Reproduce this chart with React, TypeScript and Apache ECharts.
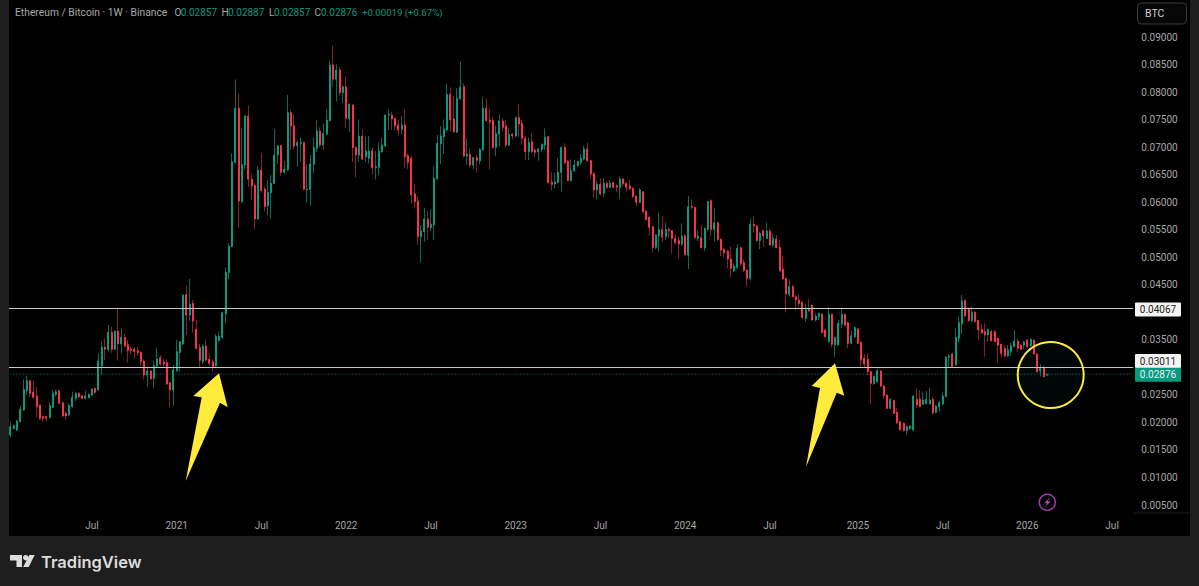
import React, { useEffect, useRef } from "react";
import * as echarts from "echarts";

// Every row: [open, close, low, high] in units of 0.00001 BTC
const candles2020 = [
[1772,1923,1729,2002],[1893,1941,1875,1965],[1862,2026,1844,2044],[2014,2244,2002,2304],[2226,2601,2214,2783],
[2577,2758,2498,2849],[2758,2528,2456,2771],[2547,2456,2438,2758],[2480,2286,2093,2649],[2316,2074,2044,2329],
[2105,2074,2014,2123],[2105,2074,2020,2123],[2086,2304,2074,2365],[2274,2528,2256,2589],[2510,2559,2468,2589],
[2577,2347,2335,2589],[2359,2117,2093,2377],[2165,2117,2044,2195],[2135,2304,2123,2347],[2286,2456,2268,2559],
[2438,2528,2395,2547],[2528,2468,2438,2547],[2486,2438,2425,2498],[2438,2480,2419,2577],[2450,2510,2438,2528],
[2498,2607,2486,2619],[2619,2547,2516,2631],[2589,3116,2571,3255],[3025,3364,2861,3467],[3364,3328,3134,3527],
[3328,3636,3285,3769],[3636,3328,3267,3739],[3328,3660,3316,3666],[3660,3424,3122,4054],[3424,3545,3255,3709],
[3545,3388,3364,3606],[3412,3303,3091,3497],[3328,3303,3225,3388],[3328,3285,3152,3364],[3303,3267,3213,3364],
[3279,3103,3025,3285],[3116,2861,2783,3146],[2861,2934,2649,3013],[2934,2789,2783,2952],[2801,3031,2631,3122],
[3025,3152,3001,3364],[3176,3061,3025,3225],[3097,3061,3013,3164],[3085,2698,2680,3146],[2722,2589,2274,2740],
[2589,2952,2304,3043],
];
const candles2021 = [
[2940,3285,2922,3497],[3267,3467,2922,3479],[3424,4314,3406,4326],[4314,3951,3588,4478],[3951,4151,3848,4605],
[4163,3842,3630,4224],[3691,3346,3328,3860],[3364,3122,2995,3424],[3103,3388,3061,3418],[3388,3134,3103,3509],
[3146,3073,3025,3255],[3103,3013,2934,3146],[3025,3558,3013,3606],[3485,3570,3467,3648],[3545,3993,3509,4012],
[3969,4726,3800,4817],[4719,5204,4598,5252],[5192,6735,5179,6887],[6723,7704,6705,8231],[7704,6021,5537,7964],
[6009,6687,5979,7359],[6675,7565,6596,7583],[7565,6420,6281,7752],[6414,6293,6039,6505],[6305,5694,5512,6342],
[5694,6584,5676,6657],[6584,6209,6172,6899],[6239,5918,5839,6281],[5936,6178,5767,6402],[6172,6342,5706,6493],
[6342,6856,6330,7323],[6856,7026,6693,7038],[7026,6542,6481,7038],[6542,6596,6523,6747],[6584,7625,6572,7946],
[7625,7383,6947,7674],[7389,7020,6959,7601],[7026,7080,6644,7117],[7068,7086,6735,7177],[7086,6233,6221,7098],
[6221,6239,5991,6687],[6233,6693,5936,6856],[6687,6990,6523,7177],[6977,7292,6917,7492],[7292,7038,6996,7359],
[7038,7250,6947,7432],[7238,7492,7220,7692],[7480,8491,7468,8564],[8491,8237,8097,8836],[8237,8400,7825,8503],
[8400,7988,7928,8461],[7988,8097,7795,8110],
];
const candles2022 = [
[8097,7522,7353,8279],[7510,7777,7280,7795],[7764,6990,6735,7777],[6996,6856,6451,7008],[6856,7201,6735,7504],
[7201,6784,6766,7323],[6826,6929,6735,7189],[6796,6929,6705,7201],[6935,6626,6505,6996],[6626,6644,6414,6929],
[6632,6929,6493,7080],[6917,7038,6899,7171],[7020,7583,7008,7589],[7583,7601,7310,7686],[7583,7510,7310,7643],
[7522,7383,7310,7534],[7401,7310,7207,7504],[7323,7401,7232,7565],[7401,6826,6626,7686],[6844,6723,6602,6887],
[6800,6135,5979,6838],[6149,6009,5888,6327],[6022,5374,5222,6100],[5374,5477,4902,5586],[5465,5695,5283,5900],
[5695,5543,5313,5840],[5543,5598,5477,5870],[5586,6433,5313,6645],[6421,7069,6415,7220],[7057,7202,6694,7384],
[7190,7329,6875,7505],[7311,7959,7299,8159],[7959,7493,7281,8086],[7511,7275,7263,7929],[7269,7886,7263,8068],
[7874,8086,7868,8552],[8098,6839,6815,8159],[6839,6875,6675,7160],[6869,6675,6633,6978],[6675,6809,6603,6827],
[6809,6760,6542,6857],[6748,6960,6687,6978],[6948,7705,6948,7916],[7705,7481,7462,7886],[7493,7462,6597,7692],
[7481,6990,6972,7541],[6996,7250,6839,7390],[7238,7475,7008,7596],[7475,7359,7281,7523],[7384,7039,6990,7493],
[7039,7232,7020,7341],[7238,7202,7142,7250],
];
const candles2023 = [
[7202,7535,7178,7553],[7535,7420,7178,7783],[7432,7160,7039,7493],[7160,6918,6766,7208],[6918,7087,6766,7178],
[7099,6918,6887,7250],[6948,6905,6815,6990],[6911,6966,6754,6978],[6960,7051,6918,7069],[7039,7178,6948,7341],
[7190,6354,6342,7202],[6367,6324,6221,6542],[6330,6367,6252,6536],[6360,6542,6342,6796],[6542,6996,6191,7008],
[6996,6718,6687,7069],[6748,6391,6385,6766],[6391,6572,6385,6778],[6566,6675,6554,6766],[6663,6736,6645,6754],
[6724,6796,6675,6869],[6784,6966,6754,7020],[6966,6754,6736,7081],[6754,6512,6433,6766],[6524,6221,6088,6536],
[6221,6324,6052,6385],[6324,6149,6118,6433],[6161,6342,6100,6433],[6342,6270,6233,6373],[6270,6342,6252,6403],
[6354,6270,6252,6373],[6300,6276,6191,6324],[6270,6421,6058,6463],[6421,6330,6282,6445],[6342,6270,6191,6360],
[6294,6240,6221,6403],[6252,6100,6082,6270],[6112,5997,5931,6124],[5997,6221,5979,6252],[6190,5827,5809,6203],
[5839,5688,5664,5857],[5730,5543,5391,5736],[5555,5179,5089,5567],[5179,5403,5149,5416],[5391,5506,5101,5809],
[5506,5361,5282,5736],[5373,5506,5313,5627],[5506,5482,5343,5543],[5482,5343,5070,5494],[5343,5270,5234,5422],
[5301,5240,4968,5373],[5240,5385,5204,5615],
];
const candles2024 = [
[5391,5040,5040,5422],[5040,5918,4786,6112],[5918,5906,5870,6051],[5906,5355,5343,5918],[5343,5385,5295,5482],
[5355,5173,5161,5585],[5173,5525,5113,5537],[5506,6009,5482,6021],[6027,5506,5391,6051],[5506,5627,5282,5900],
[5627,5325,5301,5646],[5325,5131,5022,5343],[5143,5083,4998,5173],[5113,4968,4798,5131],[4968,4798,4629,5192],
[4749,4840,4737,4889],[4816,5161,4786,5240],[5173,4889,4828,5192],[4901,4756,4737,4962],[4768,4616,4465,4780],
[4616,5597,4574,5706],[5597,5567,5446,5736],[5567,5301,5282,5585],[5301,5434,5149,5464],[5482,5391,5192,5494],
[5343,5476,5331,5627],[5476,5222,5204,5525],[5222,5343,5179,5434],[5331,5173,5161,5403],[5179,4756,4737,5313],
[4786,4604,4598,5040],[4616,4332,3999,4629],[4326,4465,4283,4598],[4465,4283,4271,4495],[4283,4223,4041,4314],
[4223,4162,4084,4326],[4181,3902,3890,4205],[3890,4041,3829,4162],[4053,4023,4011,4235],[4132,3860,3848,4144],
[3860,3932,3829,3981],[3920,3981,3860,3993],[3969,3636,3618,3981],[3678,3557,3539,3690],[3466,3963,3454,4102],
[3963,3418,3357,3981],[3406,3545,3182,3557],[3406,3799,3400,3860],[3787,3963,3708,4072],[3963,3769,3739,3981],
[3811,3436,3345,3829],[3437,3576,3425,3667],
];
const candles2025 = [
[3558,3721,3528,3739],[3697,3437,3425,3709],[3455,3134,3001,3479],[3164,3061,3001,3243],[3146,2922,2862,3255],
[2922,2710,2335,2940],[2710,2831,2680,2849],[2741,2940,2722,2965],[2934,2662,2638,2952],[2662,2486,2438,2674],
[2498,2256,2238,2510],[2256,2420,2238,2438],[2395,2165,2153,2408],[2183,1996,1972,2256],[2014,1863,1851,2032],
[1984,1851,1832,1996],[1851,1923,1772,1941],[1893,1935,1863,1947],[1863,2480,1851,2498],[2420,2317,2256,2619],
[2420,2287,2274,2589],[2329,2408,2317,2559],[2341,2420,2335,2571],[2335,2408,2330,2619],[2420,2178,2135,2468],
[2184,2299,2165,2317],[2287,2359,2196,2395],[2335,2480,2317,2559],[2468,3182,2456,3207],[3182,3207,3001,3243],
[3243,3013,3001,3267],[3043,3546,3037,3709],[3528,3812,3449,3921],[3788,4206,3606,4315],[4212,3933,3921,4224],
[4072,3848,3830,4085],[3848,4000,3818,4103],[4000,3830,3818,4024],[3848,3679,3497,3860],[3691,3630,3606,3788],
[3649,3588,3195,3800],[3588,3691,3467,3709],[3649,3485,3467,3679],[3649,3467,3455,3679],[3528,3406,3086,3540],
[3419,3255,3182,3431],[3346,3207,3195,3406],[3207,3316,3195,3406],[3285,3394,3207,3449],[3376,3479,3364,3679],
[3479,3346,3285,3528],[3406,3328,3316,3419],[3400,3461,3328,3479],
];
const candles2026 = [
[3497,3376,3364,3515],[3394,3509,3376,3527],[3497,3243,3225,3509],[3243,2922,2910,3255],[2940,2977,2831,3055],
[3001,2831,2819,3025],[2857,2876,2857,2887],
];

const firstWeek = "2020-01-13";
const weekCount = 345;
const priceTicks = [0.09,0.085,0.08,0.075,0.07,0.065,0.06,0.055,0.05,0.045,0.035,0.025,0.02,0.015,0.01,0.005];
const levelUpper = 0.04067;
const levelLower = 0.03011;
const lastPrice = 0.02876;
const legendTitle = "Ethereum / Bitcoin · 1W · Binance";
const legendChange = "+0.00019 (+0.67%)";
const legendOHLC = ["0.02857", "0.02887", "0.02857", "0.02876"];

const GREEN = "#089981";
const RED = "#f7324a";
const FONT = "Roboto";

function weekLabels(): string[] {
  const out: string[] = [];
  const start = new Date(firstWeek + "T00:00:00Z").getTime();
  for (let i = 0; i < weekCount; i++) {
    const d = new Date(start + i * 7 * 864e5);
    const first = d.getUTCDate() <= 7;
    if (first && d.getUTCMonth() === 0) out.push(String(d.getUTCFullYear()));
    else if (first && d.getUTCMonth() === 6) out.push("Jul");
    else out.push("");
  }
  return out;
}

export default function App() {
  const ref = useRef<HTMLDivElement>(null);
  useEffect(() => {
    document.body.style.margin = "0";
    document.body.style.background = "#1e1e1e";
    const chart = echarts.init(ref.current!, undefined, { renderer: "svg" });
    const rows = [
      ...candles2020, ...candles2021, ...candles2022, ...candles2023,
      ...candles2024, ...candles2025, ...candles2026,
    ].map((r) => r.map((v) => v / 100000));
    const bodies = rows.map(([o, c]) => [o, c, Math.min(o, c), Math.max(o, c)]);
    const labels = weekLabels();
    const categories = labels.map((l, i) => (l ? l : `w${i}`));

    const txt = (text: string, x: number, y: number, fill: string, size = 10, extra: any = {}) => ({
      type: "text", z: 30, x, y,
      style: { text, fill, font: `${size}px ${FONT}`, textVerticalAlign: "middle", verticalAlign: "middle", ...extra },
    });
    const tag = (value: number, yc: number, bg: string, fg: string) => [
      { type: "rect", z: 29, shape: { x: 1135, y: yc - 7, width: 46, height: 14, r: 1 }, style: { fill: bg } },
      txt(value.toFixed(5), 1158, yc, fg, 10, { textAlign: "center", align: "center" }),
    ];
    const poly = (points: number[][], fill: string, z = 20) => ({ type: "polygon", z, shape: { points }, style: { fill } });

    chart.setOption({
      animation: false,
      backgroundColor: "#1e1e1e",
      grid: { left: 8.87, top: 0, width: 1124.4, height: 513 },
      xAxis: {
        type: "category",
        data: categories,
        boundaryGap: true,
        axisLine: { show: false },
        axisTick: { show: false },
        splitLine: { show: false },
        axisLabel: {
          interval: (i: number) => labels[i] !== "",
          formatter: (_: string, i: number) => labels[i],
          color: "#a8a8a8", fontFamily: FONT, fontSize: 10, margin: 7, hideOverlap: false,
        },
      },
      yAxis: {
        type: "value",
        position: "right",
        min: 0.00355,
        max: 0.09672,
        axisLine: { show: false },
        axisTick: { show: false },
        splitLine: { show: false },
        axisLabel: {
          customValues: priceTicks,
          formatter: (v: number) => v.toFixed(5),
          color: "#a8a8a8", fontFamily: FONT, fontSize: 10, margin: 8,
        },
      },
      series: [
        {
          type: "line",
          name: "last price",
          data: labels.map(() => lastPrice),
          showSymbol: false,
          silent: true,
          z: 1,
          lineStyle: { color: "#0f8270", width: 1, type: [1, 2] },
        },
        {
          type: "candlestick",
          name: "wicks",
          data: rows,
          barWidth: 1,
          itemStyle: { color: "#0b6a5a", color0: "#84232e", borderColor: "#0b6a5a", borderColor0: "#84232e", borderWidth: 1 },
          markLine: {
            silent: true, symbol: "none", precision: 5, label: { show: false }, animation: false,
            lineStyle: { color: "#c8c8c8", width: 1, type: "solid" },
            data: [{ yAxis: levelUpper }, { yAxis: levelLower }],
          },
        },
        {
          type: "candlestick",
          name: "bodies",
          data: bodies,
          barWidth: 1.5,
          itemStyle: { color: GREEN, color0: RED, borderColor: GREEN, borderColor0: RED, borderWidth: 1 },
        },
      ],
      graphic: [
        { type: "rect", z: -1, shape: { x: 9, y: 0, width: 1181, height: 536 }, style: { fill: "#000" } },
        txt(legendTitle, 15, 12.5, "#a8a8a8", 10.3),
        txt("O", 174.5, 12.5, "#a8a8a8"), txt(legendOHLC[0], 180.7, 12.5, GREEN),
        txt("H", 221.5, 12.5, "#a8a8a8"), txt(legendOHLC[1], 228, 12.5, GREEN),
        txt("L", 269, 12.5, "#a8a8a8"), txt(legendOHLC[2], 274, 12.5, GREEN),
        txt("C", 314.5, 12.5, "#a8a8a8"), txt(legendOHLC[3], 321, 12.5, GREEN),
        txt(legendChange, 362, 12.5, GREEN, 9.6),
        { type: "rect", z: 25, shape: { x: 1137.5, y: 3, width: 49, height: 21, r: 4 }, style: { fill: "#060606", stroke: "#3c3c3c", lineWidth: 1 } },
        txt("BTC", 1145, 13.5, "#d0d0d0", 10.5),
        { type: "line", z: 5, shape: { x1: 1133, y1: 513, x2: 1190, y2: 513 }, style: { stroke: "#1a1a1a", lineWidth: 1 } },
        ...tag(levelUpper, 309.5, "#f4f4f4", "#222"),
        ...tag(levelLower, 361, "#f4f4f4", "#222"),
        ...tag(lastPrice, 374.7, GREEN, "#f0f0f0"),
        poly([[219,373.3],[193.3,396],[201.7,397.3],[185.7,481],[220,402.7],[227.7,407.3]], "#ffeb3b"),
        poly([[835,363.3],[811.7,386],[820,388],[806,467],[836.7,392.7],[844.3,395.7]], "#ffeb3b"),
        { type: "circle", z: 18, shape: { cx: 1050.7, cy: 375, r: 33 }, style: { fill: "rgba(8,153,129,0.05)", stroke: "#ffeb3b", lineWidth: 2 } },
        { type: "circle", z: 18, shape: { cx: 1047.3, cy: 502.3, r: 8 }, style: { fill: "transparent", stroke: "#a23fb8", lineWidth: 1.4 } },
        poly([[1050.6,496.8],[1044.2,503.2],[1047.2,503.2],[1044.2,507.8],[1050.6,501.4],[1047.6,501.4]], "#b04ac6"),
        poly([[10,555],[22,555],[22,567],[16.5,567],[16.5,560.5],[10,560.5]], "#dcdcdc"),
        { type: "circle", z: 20, shape: { cx: 25.7, cy: 557.7, r: 2.7 }, style: { fill: "#dcdcdc" } },
        poly([[29.3,555],[34.7,555],[28.7,567],[23.2,567]], "#dcdcdc"),
        { type: "text", z: 30, x: 41, y: 561.5, style: { text: "TradingView", fill: "#dcdcdc", font: "600 16.5px Inter", textVerticalAlign: "middle", verticalAlign: "middle" } },
      ],
    });
    return () => chart.dispose();
  }, []);
  return <div ref={ref} style={{ width: 1199, height: 586 }} />;
}
